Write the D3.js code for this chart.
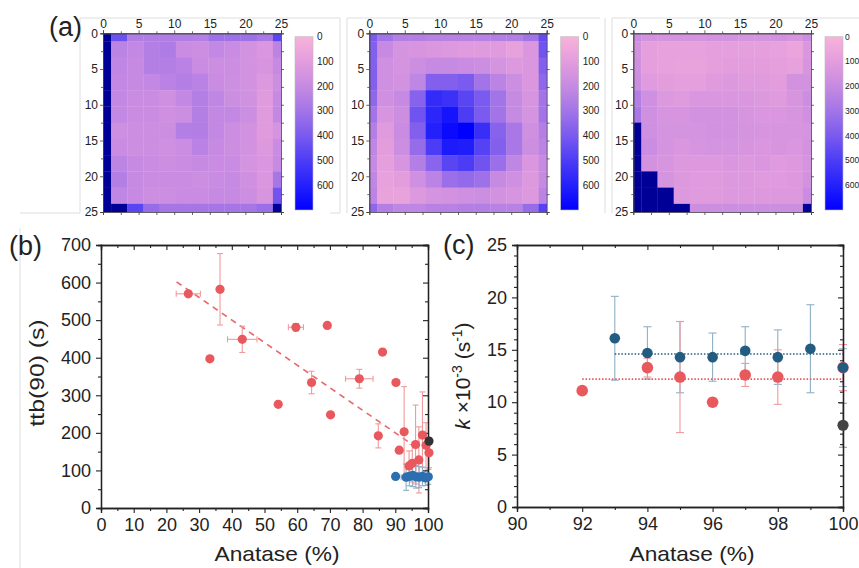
<!DOCTYPE html>
<html>
<head>
<meta charset="utf-8">
<script src="https://cdn.jsdelivr.net/npm/d3@7"></script>
<style>
  body { margin: 0; background: #fff; }
  svg { display: block; }
  text { font-family: "Liberation Sans", Arial, Helvetica, sans-serif; fill: #222; }
</style>
</head>
<body>
<svg id="fig" width="859" height="568"></svg>
<script>
// ---------- (a) map data: 12 x 12 samples over a 25 x 25 area (rows top to bottom) ----------
const mapTicks = [0, 5, 10, 15, 20, 25];
const mapMinorTicks = [2.5, 7.5, 12.5, 17.5, 22.5];
const colorbarTicks = [0, 100, 200, 300, 400, 500, 600];
const OVER = 800; // above colour range

const mapA = [
  [OVER, 430, 260, 260, 260, 260, 250, 310, 310, 310, 280, 470],
  [OVER, 230, 210, 250, 265, 190, 180, 210, 190, 160, 130, 230],
  [OVER, 220, 200, 250, 250, 235, 190, 180, 180, 160, 140, 200],
  [OVER, 210, 200, 210, 235, 250, 235, 190, 175, 160, 120, 180],
  [OVER, 210, 190, 190, 170, 210, 250, 220, 180, 165, 110, 200],
  [OVER, 210, 190, 190, 170, 180, 250, 210, 210, 180, 110, 210],
  [OVER, 175, 180, 180, 180, 250, 255, 210, 180, 160, 110, 150],
  [OVER, 190, 180, 180, 170, 185, 235, 200, 180, 160, 120, 190],
  [OVER, 225, 200, 190, 180, 190, 200, 190, 190, 150, 130, 200],
  [OVER, 250, 200, 190, 190, 190, 180, 190, 200, 170, 130, 290],
  [OVER, 220, 200, 180, 180, 190, 190, 200, 200, 180, 140, 420],
  [OVER, OVER, 470, 330, 290, 290, 290, 290, 290, 290, 320, OVER]
];
const mapB = [
  [400, 300, 250, 250, 240, 240, 240, 240, 250, 250, 300, 450],
  [380, 200, 150, 140, 130, 120, 110, 110, 110,  80, 130, 420],
  [380, 170, 150, 180, 200, 200, 190, 180, 150, 120, 130, 380],
  [380, 170, 160, 220, 380, 380, 400, 300, 230, 180, 130, 350],
  [350, 170, 200, 370, 560, 540, 470, 400, 300, 200, 140, 300],
  [300, 140, 180, 420, 580, 640, 500, 400, 300, 200, 150, 300],
  [250, 110, 190, 380, 600, 670, 700, 550, 370, 280, 170, 250],
  [220, 100, 180, 330, 500, 620, 610, 480, 380, 280, 180, 230],
  [200,  90, 140, 250, 360, 470, 500, 420, 320, 220, 130, 200],
  [220,  80, 100, 170, 230, 320, 340, 310, 200, 170, 120, 200],
  [230,  70,  70, 120, 150, 160, 170, 180, 160, 140, 120, 230],
  [350, 250, 220, 220, 240, 240, 250, 250, 240, 240, 330, 480]
];
const mapC = [
  [190, 160, 150, 150, 150, 160, 160, 150, 150, 160, 140, 180],
  [160,  90,  80,  80,  80,  90,  90,  90,  90,  80,  60, 130],
  [170,  90,  80,  70,  70,  90, 100, 100, 100,  90,  80, 140],
  [180, 110, 100,  90,  90, 110, 120, 110, 110, 100, 160, 160],
  [250, 170, 120, 110, 130, 130, 130, 130, 120, 110, 140, 180],
  [280, 170, 140, 140, 160, 160, 160, 140, 130, 130, 140, 170],
  [OVER, 170, 150, 150, 150, 160, 160, 150, 140, 140, 140, 150],
  [OVER, 185, 150, 130, 140, 150, 150, 140, 130, 140, 130, 160],
  [OVER, 160, 140, 120, 120, 120, 130, 120, 130, 110, 120, 150],
  [OVER, OVER, 150, 120, 110, 110, 120, 120, 110, 110, 120, 160],
  [OVER, OVER, OVER, 120, 110, 110, 120, 120, 120, 120, 120, 190],
  [OVER, OVER, OVER, OVER, 180, 180, 180, 180, 180, 180, 180, OVER]
];

// ---------- (b) ttb(90) versus anatase content ----------
const bTicksX = [0, 10, 20, 30, 40, 50, 60, 70, 80, 90, 100];
const bTicksY = [0, 100, 200, 300, 400, 500, 600, 700];
const bRedX    = [26.7, 33.3, 36.4, 43.2, 54.2, 59.6, 64.4, 69.2, 70.2, 79.0, 84.8, 86.1, 90.2, 91.2, 92.7, 94.2, 95.2, 96.2, 97.2, 98.3, 99.4, 100.3];
const bRedY    = [570, 397, 582, 449, 276, 481, 334, 486, 248, 344, 192, 415, 334, 154, 203, 112, 119, 169, 128, 194, 167, 147];
const bRedYErr = [0, 0, 95, 35, 0, 10, 30, 0, 0, 25, 32, 0, 0, 0, 120, 40, 50, 105, 88, 115, 60, 40];
const bRedXErr = [3.7, 0, 0, 4.5, 0, 2.3, 0, 0, 0, 4.2, 0, 0, 0, 0, 0, 0, 0, 0, 0, 0, 0, 0];
const bBlueX    = [90.1, 93.3, 94.3, 95.3, 96.3, 97.3, 98.3, 99.2, 100.1];
const bBlueY    = [84, 82, 84, 87, 83, 82, 84, 80, 83];
const bBlueYErr = [0, 35, 25, 30, 30, 28, 25, 20, 20];
const bBlueXErr = [0, 1.5, 1.5, 1.5, 1.5, 1.5, 1, 1, 0];
const bBlackX = [100.3];
const bBlackY = [178];
const bTrendX = [23.1, 94];
const bTrendY = [602, 176];

// ---------- (c) rate constant k versus anatase content ----------
const cTicksX = [90, 92, 94, 96, 98, 100];
const cTicksY = [0, 5, 10, 15, 20, 25];
const cBlueX   = [93, 94, 95, 96, 97, 98, 99, 100];
const cBlueY   = [16.1, 14.7, 14.3, 14.3, 14.9, 14.3, 15.1, 13.3];
const cBlueErr = [4.0, 2.5, 3.4, 2.3, 2.3, 2.6, 4.2, 1.8];
const cRedX    = [92, 94, 95, 96, 97, 98, 100];
const cRedY    = [11.1, 13.3, 12.4, 10.0, 12.6, 12.4, 13.3];
const cRedErr  = [0, 0.9, 5.3, 0, 1.1, 2.6, 2.2];
const cBlackX  = [100];
const cBlackY  = [7.8];
const cBlackErr = [2.1];
const cBlueMean = 14.6;
const cRedMean  = 12.2;

// ---------- styling ----------
const RED = "#e8585c", RED_ERR = "#f09a9c";
const BLUE_B = "#2b6fb0", BLUE_C = "#225c80", BLUE_ERR = "#8fb0c6";
const BLACK = "#333";
const AXIS = "#222";

const svg = d3.select("#fig");

// faint outlines of the panel boxes
const faint = svg.append("g").attr("stroke", "#dedede").attr("fill", "none");
faint.append("path").attr("d", "M20,213H80V18H340V213H330");
faint.append("path").attr("d", "M347,213V18H600");
faint.append("path").attr("d", "M605,213V18M612,213V18H859");
faint.append("path").attr("d", "M20,228V568");

// ---------- (a) maps ----------
// pink -> lilac -> violet -> blue colour ramp over 0..700
const mapColor = d3.scaleLinear()
  .domain([0, 100, 200, 300, 400, 500, 600, 700])
  .range(["#f8b2da", "#e39ddd", "#c68ae2", "#a274e7", "#7a5aef", "#4c3cf5", "#2420fb", "#0000ff"])
  .interpolate(d3.interpolateRgb).clamp(true);
const cellColor = v => v > 700 ? "#000096" : mapColor(v);
const gridStep = 25 / 11;

const panels = [
  { data: mapA, x0: 103,   x1: 281 },
  { data: mapB, x0: 369.3, x1: 546.7 },
  { data: mapC, x0: 633.3, x1: 811 }
];
const mapTop = 33.3, mapBottom = 212;

const gradId = "cbar";
const grad = svg.append("defs").append("linearGradient").attr("id", gradId)
  .attr("x1", 0).attr("y1", 0).attr("x2", 0).attr("y2", 1);
d3.range(0, 701, 25).forEach(v => {
  grad.append("stop").attr("offset", v / 700).attr("stop-color", mapColor(v));
});

panels.forEach((p, pi) => {
  const x = d3.scaleLinear().domain([0, 25]).range([p.x0, p.x1]);
  const y = d3.scaleLinear().domain([0, 25]).range([mapTop, mapBottom]);
  const g = svg.append("g");
  const cells = [];
  p.data.forEach((row, r) => row.forEach((v, c) => cells.push({ r, c, v })));
  g.selectAll("rect.cell").data(cells).join("rect")
    .attr("class", "cell")
    .attr("x", d => x(Math.max(0, (d.c - 0.5) * gridStep)))
    .attr("y", d => y(Math.max(0, (d.r - 0.5) * gridStep)))
    .attr("width", d => x(Math.min(25, (d.c + 0.5) * gridStep)) - x(Math.max(0, (d.c - 0.5) * gridStep)) + 0.3)
    .attr("height", d => y(Math.min(25, (d.r + 0.5) * gridStep)) - y(Math.max(0, (d.r - 0.5) * gridStep)) + 0.3)
    .attr("fill", d => cellColor(d.v));

  // axes on four sides, ticks outward
  g.append("g").attr("transform", `translate(0,${mapTop})`)
    .call(d3.axisTop(x).tickValues(mapTicks).tickSize(3).tickPadding(2).tickFormat(d3.format("d")));
  g.append("g").attr("transform", `translate(${p.x0},0)`)
    .call(d3.axisLeft(y).tickValues(mapTicks).tickSize(3).tickPadding(2).tickFormat(d3.format("d")));
  g.append("g").attr("transform", `translate(0,${mapBottom})`)
    .call(d3.axisBottom(x).tickValues(mapTicks.concat(mapMinorTicks)).tickSize(3).tickFormat(""));
  g.append("g").attr("transform", `translate(${p.x1},0)`)
    .call(d3.axisRight(y).tickValues(mapTicks.concat(mapMinorTicks)).tickSize(3).tickFormat(""));
  g.append("g").attr("transform", `translate(0,${mapTop})`)
    .call(d3.axisTop(x).tickValues(mapMinorTicks).tickSize(2).tickFormat(""));
  g.append("g").attr("transform", `translate(${p.x0},0)`)
    .call(d3.axisLeft(y).tickValues(mapMinorTicks).tickSize(2).tickFormat(""));
  g.selectAll(".domain, .tick line").attr("stroke", "#444").attr("stroke-width", 0.8);
  g.selectAll(".tick text").attr("font-size", 12).attr("fill", "#333");

  // colour bar
  const cb = d3.scaleLinear().domain([0, 700]).range([36.7, 210]);
  const cbx = p.x1 + 14;
  const last = pi === panels.length - 1;
  g.append("rect").attr("x", cbx).attr("y", cb(0)).attr("width", 18).attr("height", cb(700) - cb(0))
    .attr("fill", `url(#${gradId})`).attr("stroke", "#bbb").attr("stroke-width", 0.6);
  g.selectAll("text.cbl").data(colorbarTicks).join("text").attr("class", "cbl")
    .attr("x", cbx + (last ? 20 : 22)).attr("y", d => cb(d)).attr("dy", "0.35em")
    .attr("font-size", last ? 8.5 : 10).attr("fill", "#333").text(d => d);
});

svg.append("text").attr("x", 49).attr("y", 36).attr("font-size", 27).text("(a)");

// ---------- shared framed axes ----------
function frame(g, x, y, xMajor, xMinor, yMajor, yMinor) {
  const [yb, yt] = y.range();
  const [xl, xr] = x.range();
  g.append("g").attr("transform", `translate(0,${yb})`)
    .call(d3.axisBottom(x).tickValues(xMajor).tickSize(5).tickPadding(5).tickFormat(d3.format("d")));
  g.append("g").attr("transform", `translate(0,${yb})`)
    .call(d3.axisBottom(x).tickValues(xMinor).tickSize(3).tickFormat(""));
  g.append("g").attr("transform", `translate(${xl},0)`)
    .call(d3.axisLeft(y).tickValues(yMajor).tickSize(5).tickPadding(5).tickFormat(d3.format("d")));
  g.append("g").attr("transform", `translate(${xl},0)`)
    .call(d3.axisLeft(y).tickValues(yMinor).tickSize(3).tickFormat(""));
  g.append("g").attr("transform", `translate(0,${yt})`)
    .call(d3.axisTop(x).tickValues(xMajor).tickSize(-5).tickFormat(""));
  g.append("g").attr("transform", `translate(0,${yt})`)
    .call(d3.axisTop(x).tickValues(xMinor).tickSize(-3).tickFormat(""));
  g.append("g").attr("transform", `translate(${xr},0)`)
    .call(d3.axisRight(y).tickValues(yMajor).tickSize(-5).tickFormat(""));
  g.append("g").attr("transform", `translate(${xr},0)`)
    .call(d3.axisRight(y).tickValues(yMinor).tickSize(-3).tickFormat(""));
  g.selectAll(".domain").attr("stroke", AXIS).attr("stroke-width", 1.3);
  g.selectAll(".tick line").attr("stroke", AXIS).attr("stroke-width", 1.1);
  g.selectAll(".tick text").attr("font-size", 18).attr("fill", "#222");
}

function errorBars(g, pts, color, capW) {
  pts.forEach(p => {
    if (p.ye) {
      g.append("line").attr("x1", p.cx).attr("x2", p.cx).attr("y1", p.y0).attr("y2", p.y1)
        .attr("stroke", color).attr("stroke-width", 1.1);
      [p.y0, p.y1].forEach(yy => g.append("line").attr("x1", p.cx - capW).attr("x2", p.cx + capW)
        .attr("y1", yy).attr("y2", yy).attr("stroke", color).attr("stroke-width", 1.1));
    }
    if (p.xe) {
      g.append("line").attr("x1", p.x0).attr("x2", p.x1).attr("y1", p.cy).attr("y2", p.cy)
        .attr("stroke", color).attr("stroke-width", 1.1);
      [p.x0, p.x1].forEach(xx => g.append("line").attr("x1", xx).attr("x2", xx)
        .attr("y1", p.cy - capW).attr("y2", p.cy + capW).attr("stroke", color).attr("stroke-width", 1.1));
    }
  });
}

// ---------- (b) ----------
{
  const x = d3.scaleLinear().domain([0, 100]).range([101, 428]);
  const y = d3.scaleLinear().domain([0, 700]).range([508, 245]);
  const g = svg.append("g");

  const pts = (X, Y, YE, XE) => X.map((v, i) => ({
    cx: x(v), cy: y(Y[i]), ye: YE ? YE[i] : 0, xe: XE ? XE[i] : 0,
    y0: y(Y[i] - (YE ? YE[i] : 0)), y1: y(Y[i] + (YE ? YE[i] : 0)),
    x0: x(v - (XE ? XE[i] : 0)), x1: x(v + (XE ? XE[i] : 0))
  }));
  const red = pts(bRedX, bRedY, bRedYErr, bRedXErr);
  const blue = pts(bBlueX, bBlueY, bBlueYErr, bBlueXErr);
  const black = pts(bBlackX, bBlackY);

  g.append("line")
    .attr("x1", x(bTrendX[0])).attr("y1", y(bTrendY[0]))
    .attr("x2", x(bTrendX[1])).attr("y2", y(bTrendY[1]))
    .attr("stroke", RED).attr("stroke-width", 1.6).attr("stroke-dasharray", "6,5").attr("opacity", 0.9);

  errorBars(g, red, RED_ERR, 3);
  errorBars(g, blue, BLUE_ERR, 3);

  frame(g, x, y, bTicksX, [5, 15, 25, 35, 45, 55, 65, 75, 85, 95],
        bTicksY, [50, 150, 250, 350, 450, 550, 650]);

  g.selectAll("circle.r").data(red).join("circle").attr("class", "r")
    .attr("cx", d => d.cx).attr("cy", d => d.cy).attr("r", 4.6).attr("fill", RED);
  g.selectAll("circle.k").data(black).join("circle").attr("class", "k")
    .attr("cx", d => d.cx).attr("cy", d => d.cy).attr("r", 4.6).attr("fill", BLACK);
  g.selectAll("circle.b").data(blue).join("circle").attr("class", "b")
    .attr("cx", d => d.cx).attr("cy", d => d.cy).attr("r", 4.6).attr("fill", BLUE_B);

  g.append("text").attr("transform", "translate(44,373) rotate(-90)")
    .attr("text-anchor", "middle").attr("font-size", 21)
    .attr("textLength", 107).attr("lengthAdjust", "spacingAndGlyphs").text("ttb(90) (s)");
  g.append("text").attr("x", 277).attr("y", 561).attr("text-anchor", "middle").attr("font-size", 21)
    .attr("textLength", 125).attr("lengthAdjust", "spacingAndGlyphs").text("Anatase (%)");
  g.append("text").attr("x", 9).attr("y", 255).attr("font-size", 27).text("(b)");
}

// ---------- (c) ----------
{
  const x = d3.scaleLinear().domain([90, 100]).range([517, 843]);
  const y = d3.scaleLinear().domain([0, 25]).range([507, 245]);
  const g = svg.append("g");

  const pts = (X, Y, E) => X.map((v, i) => ({
    cx: x(v), cy: y(Y[i]), ye: E[i], xe: 0,
    y0: y(Y[i] - E[i]), y1: y(Y[i] + E[i])
  }));
  const blue = pts(cBlueX, cBlueY, cBlueErr);
  const red = pts(cRedX, cRedY, cRedErr);
  const black = pts(cBlackX, cBlackY, cBlackErr);

  errorBars(g, blue, BLUE_ERR, 4);
  errorBars(g, red, RED_ERR, 4);
  errorBars(g, black, "#999", 4);

  g.append("line").attr("x1", x(d3.min(cBlueX))).attr("x2", x(d3.max(cBlueX)))
    .attr("y1", y(cBlueMean)).attr("y2", y(cBlueMean))
    .attr("stroke", BLUE_C).attr("stroke-width", 1.6).attr("stroke-dasharray", "1.5,1.8");
  g.append("line").attr("x1", x(d3.min(cRedX))).attr("x2", x(d3.max(cRedX)))
    .attr("y1", y(cRedMean)).attr("y2", y(cRedMean))
    .attr("stroke", RED).attr("stroke-width", 1.6).attr("stroke-dasharray", "1.5,1.8");

  frame(g, x, y, cTicksX, [91, 93, 95, 97, 99],
        cTicksY, [1, 2, 3, 4, 6, 7, 8, 9, 11, 12, 13, 14, 16, 17, 18, 19, 21, 22, 23, 24]);

  g.selectAll("circle.r").data(red).join("circle").attr("class", "r")
    .attr("cx", d => d.cx).attr("cy", d => d.cy).attr("r", 5.8).attr("fill", RED);
  g.selectAll("circle.b").data(blue).join("circle").attr("class", "b")
    .attr("cx", d => d.cx).attr("cy", d => d.cy).attr("r", 5.3).attr("fill", BLUE_C);
  g.selectAll("circle.k").data(black).join("circle").attr("class", "k")
    .attr("cx", d => d.cx).attr("cy", d => d.cy).attr("r", 5.6).attr("fill", "#444");

  const yl = g.append("text").attr("transform", "translate(470,376) rotate(-90)")
    .attr("text-anchor", "middle").attr("font-size", 21);
  yl.append("tspan").attr("font-style", "italic").text("k");
  yl.append("tspan").text(" ×10");
  yl.append("tspan").attr("font-size", 14).attr("dy", -8).text("-3");
  yl.append("tspan").attr("dy", 8).text(" (s");
  yl.append("tspan").attr("font-size", 14).attr("dy", -8).text("-1");
  yl.append("tspan").attr("dy", 8).text(")");

  g.append("text").attr("x", 692).attr("y", 561).attr("text-anchor", "middle").attr("font-size", 21)
    .attr("textLength", 125).attr("lengthAdjust", "spacingAndGlyphs").text("Anatase (%)");
  g.append("text").attr("x", 443).attr("y", 254).attr("font-size", 27).text("(c)");
}
</script>
</body>
</html>
